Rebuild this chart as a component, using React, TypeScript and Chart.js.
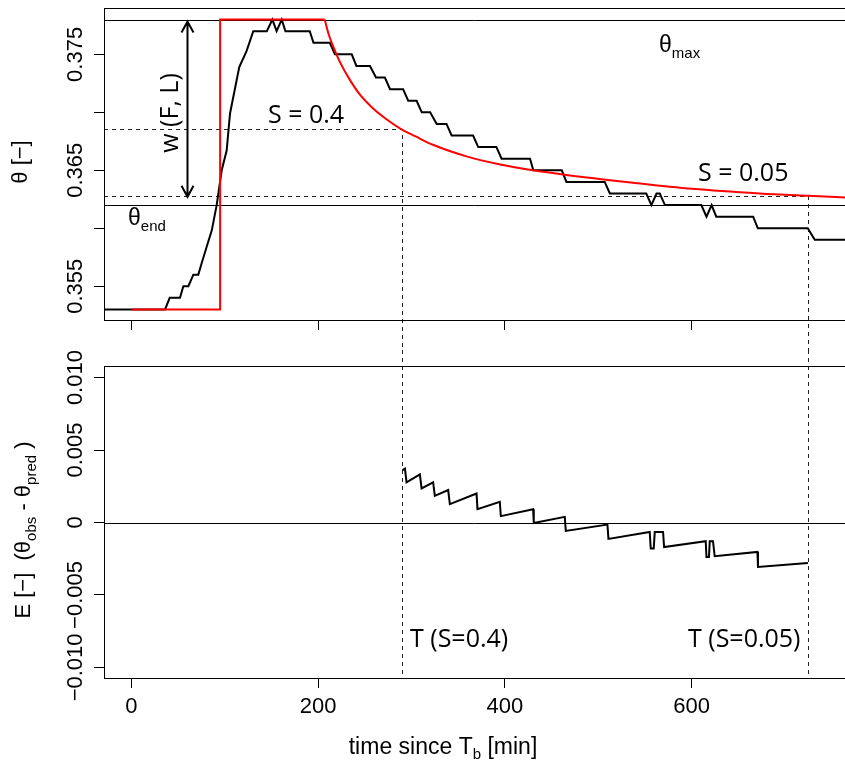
import React, { useEffect, useRef } from "react";
import { Chart, registerables } from "chart.js";

Chart.register(...registerables);

// ---------- axis settings ----------
const X_MIN = -29.4;
const X_MAX = 764.4;
const xTickValues = [0, 200, 400, 600];

const topYMin = 0.352;
const topYMax = 0.379;
const topYTickValues = [0.355, 0.36, 0.365, 0.37, 0.375];
const topYTickLabels = ["0.355", "", "0.365", "", "0.375"];

const botYMin = -0.0108;
const botYMax = 0.0108;
const botYTickValues = [-0.01, -0.005, 0, 0.005, 0.01];
const botYTickLabels = ["\u22120.010", "\u22120.005", "0", "0.005", "0.010"];

// ---------- reference levels ----------
const THETA_MAX = 0.378;
const THETA_END = 0.362;
const THETA_S04 = 0.3686;
const THETA_S005 = 0.3628;
const T_S04 = 290;
const T_S005 = 724.5;
const T_ARROW = 59.5;

// ---------- observed theta (black) ----------
const obsTime = [-30, 36, 41, 52, 55.6, 61, 66.3, 71.6, 75.3, 80.6, 86, 91.3, 96.7, 102, 105.6, 115.5, 123.4, 130.5, 145, 151, 155.5, 161, 165, 191, 195, 212.5, 218, 236, 241, 255.5, 262, 271.5, 277, 291, 296.5, 305.5, 311, 320, 327, 337.5, 343, 366, 371.5, 391, 396.5, 427, 430.5, 461, 466, 507, 512.5, 551.5, 557, 562.5, 566, 571.5, 610.5, 616, 621.5, 626.5, 666, 671, 724.5, 732, 770];
const obsTheta = [0.353, 0.353, 0.354, 0.354, 0.355, 0.355, 0.356, 0.356, 0.357, 0.3584, 0.3598, 0.362, 0.365, 0.3667, 0.3699, 0.3739, 0.3753, 0.377, 0.377, 0.378, 0.377, 0.378, 0.377, 0.377, 0.376, 0.376, 0.375, 0.375, 0.374, 0.374, 0.373, 0.373, 0.372, 0.372, 0.371, 0.371, 0.37, 0.37, 0.369, 0.369, 0.368, 0.368, 0.367, 0.367, 0.366, 0.366, 0.365, 0.365, 0.364, 0.364, 0.363, 0.363, 0.362, 0.363, 0.363, 0.362, 0.362, 0.361, 0.362, 0.361, 0.361, 0.36, 0.36, 0.359, 0.359];

// ---------- predicted theta (red) ----------
const predStepTime = [0, 95, 95, 207];
const predStepTheta = [0.353, 0.353, 0.378, 0.378];
const predDecayTime = [207, 211, 215, 223, 234, 245, 258, 270, 288, 305, 323, 359, 395, 430, 466, 530, 601, 673, 724.5, 770];
const predDecayTheta = [0.378, 0.3768, 0.3759, 0.3744, 0.3728, 0.3715, 0.3704, 0.3696, 0.3686, 0.3679, 0.3672, 0.3662, 0.3655, 0.365, 0.3646, 0.364, 0.3634, 0.363, 0.3628, 0.36264];

// ---------- error E = obs - pred ----------
const errTime = [290.4, 293, 294.7, 309, 310.8, 323.2, 325, 339.3, 341.1, 369.7, 370.7, 394.6, 395.7, 430.3, 431, 464.2, 465.3, 509.9, 511, 555.2, 556.3, 559.5, 560.6, 569.5, 570.6, 615.2, 616, 618.7, 619.5, 623, 624.8, 670.6, 671.2, 724.7];
const errValue = [0.00362, 0.00372, 0.00277, 0.00332, 0.00235, 0.00277, 0.00184, 0.00224, 0.00127, 0.002, 0.00092, 0.00143, 0.00044, 0.00092, -0.00003, 0.00039, -0.00058, -0.00014, -0.00113, -0.00065, -0.0018, -0.0018, -0.00065, -0.00065, -0.00169, -0.00129, -0.00238, -0.00238, -0.00129, -0.00129, -0.00233, -0.00203, -0.00307, -0.0028];

// ---------- fonts ----------
const AXIS_FONT = '22px "Liberation Sans", Arial, sans-serif';
const TITLE_FONT = '23px "Liberation Sans", Arial, sans-serif';
const SUB_FONT = '15px "Liberation Sans", Arial, sans-serif';
const NOTE_FONT = '25px "Open Sans", "Noto Sans", sans-serif';

const W = 870;
const TOP_H = 350;
const BOT_H = 415;

type Part = { text: string; font: string; dy?: number };

function drawParts(ctx: CanvasRenderingContext2D, parts: Part[], x: number, y: number, align: "left" | "center" | "right", rotated: boolean) {
  ctx.save();
  ctx.translate(x, y);
  if (rotated) ctx.rotate(-Math.PI / 2);
  ctx.textAlign = "left";
  ctx.textBaseline = "alphabetic";
  ctx.fillStyle = "#000";
  let total = 0;
  const widths = parts.map((p) => {
    ctx.font = p.font;
    const w = ctx.measureText(p.text).width;
    total += w;
    return w;
  });
  let cx = align === "center" ? -total / 2 : align === "right" ? -total : 0;
  parts.forEach((p, i) => {
    ctx.font = p.font;
    ctx.fillText(p.text, cx, p.dy || 0);
    cx += widths[i];
  });
  ctx.restore();
}

function toPoints(xs: number[], ys: number[]) {
  return xs.map((x, i) => ({ x, y: ys[i] }));
}

function drawFrame(chart: any) {
  const { ctx, chartArea: a } = chart;
  ctx.save();
  ctx.strokeStyle = "#000";
  ctx.lineWidth = 1;
  const l = Math.round(a.left) + 0.5;
  const t = Math.round(a.top) + 0.5;
  const r = Math.round(a.right) + 0.5;
  const b = Math.round(a.bottom) - 0.5;
  ctx.strokeRect(l, t, r - l, b - t);
  ctx.restore();
}

function drawYLabels(chart: any, values: number[], labels: string[]) {
  const y = chart.scales.y;
  values.forEach((v, i) => {
    if (!labels[i]) return;
    drawParts(chart.ctx, [{ text: labels[i], font: AXIS_FONT }], 82, y.getPixelForValue(v), "center", true);
  });
}

const xScaleBase = (height: number, showLabels: boolean) => ({
  type: "linear" as const,
  min: X_MIN,
  max: X_MAX,
  afterBuildTicks: (s: any) => {
    s.ticks = xTickValues.map((v) => ({ value: v }));
  },
  afterFit: (s: any) => {
    s.height = height;
  },
  grid: { drawOnChartArea: false, drawTicks: true, tickLength: 9, color: "#000", lineWidth: 1 },
  border: { display: false },
  ticks: {
    display: showLabels,
    font: { family: '"Liberation Sans", Arial, sans-serif', size: 22 },
    color: "#000",
    padding: 6,
    maxRotation: 0,
    minRotation: 0,
    autoSkip: false,
    callback: (v: any) => String(v),
  },
});

const yScaleBase = (min: number, max: number, values: number[]) => ({
  type: "linear" as const,
  min,
  max,
  afterBuildTicks: (s: any) => {
    s.ticks = values.map((v) => ({ value: v }));
  },
  afterFit: (s: any) => {
    s.width = 104;
  },
  grid: { drawOnChartArea: false, drawTicks: true, tickLength: 10, color: "#000", lineWidth: 1 },
  border: { display: false },
  ticks: { display: false },
});

const topPlugin = {
  id: "topDecor",
  beforeDatasetsDraw(chart: any) {
    const { ctx, chartArea: a, scales } = chart;
    const x = scales.x;
    const y = scales.y;
    ctx.save();
    ctx.strokeStyle = "#000";
    ctx.lineWidth = 1;
    [THETA_MAX, THETA_END].forEach((v) => {
      const py = Math.round(y.getPixelForValue(v)) + 0.5;
      ctx.beginPath();
      ctx.moveTo(a.left, py);
      ctx.lineTo(a.right, py);
      ctx.stroke();
    });
    ctx.setLineDash([4, 4]);
    ctx.strokeStyle = "#222";
    [[T_S04, THETA_S04], [T_S005, THETA_S005]].forEach(([t, th]) => {
      const px = Math.round(x.getPixelForValue(t)) + 0.5;
      const py = Math.round(y.getPixelForValue(th)) + 0.5;
      ctx.beginPath();
      ctx.moveTo(a.left, py);
      ctx.lineTo(px, py);
      ctx.lineTo(px, chart.height);
      ctx.stroke();
    });
    ctx.restore();
  },
  afterDraw(chart: any) {
    const { ctx, scales } = chart;
    const x = scales.x;
    const y = scales.y;
    drawFrame(chart);
    // double arrow w(F, L)
    const ax = Math.round(x.getPixelForValue(T_ARROW)) + 0.5;
    const ay1 = y.getPixelForValue(THETA_MAX) + 2;
    const ay2 = y.getPixelForValue(THETA_S005) + 1;
    ctx.save();
    ctx.strokeStyle = "#000";
    ctx.lineWidth = 2;
    ctx.beginPath();
    ctx.moveTo(ax, ay1);
    ctx.lineTo(ax, ay2);
    ctx.moveTo(ax - 6, ay1 + 11);
    ctx.lineTo(ax, ay1);
    ctx.lineTo(ax + 6, ay1 + 11);
    ctx.moveTo(ax - 6, ay2 - 11);
    ctx.lineTo(ax, ay2);
    ctx.lineTo(ax + 6, ay2 - 11);
    ctx.stroke();
    ctx.restore();
    // annotations
    drawParts(ctx, [{ text: "w (F, L)", font: NOTE_FONT }], 178, 113, "center", true);
    drawParts(ctx, [{ text: "S = 0.4", font: NOTE_FONT }], 268, 123, "left", false);
    drawParts(ctx, [{ text: "S = 0.05", font: NOTE_FONT }], 698, 181, "left", false);
    drawParts(ctx, [{ text: "\u03b8", font: TITLE_FONT }, { text: "max", font: SUB_FONT, dy: 6 }], 659, 52, "left", false);
    drawParts(ctx, [{ text: "\u03b8", font: TITLE_FONT }, { text: "end", font: SUB_FONT, dy: 6 }], 128, 225, "left", false);
    // axis labels
    drawYLabels(chart, topYTickValues, topYTickLabels);
    drawParts(ctx, [{ text: "\u03b8 [\u2212]", font: AXIS_FONT }], 27, 162, "center", true);
  },
};

const botPlugin = {
  id: "botDecor",
  beforeDatasetsDraw(chart: any) {
    const { ctx, chartArea: a, scales } = chart;
    const x = scales.x;
    const y = scales.y;
    ctx.save();
    ctx.strokeStyle = "#000";
    ctx.lineWidth = 1;
    const py = Math.round(y.getPixelForValue(0)) + 0.5;
    ctx.beginPath();
    ctx.moveTo(a.left, py);
    ctx.lineTo(a.right, py);
    ctx.stroke();
    ctx.setLineDash([4, 4]);
    ctx.strokeStyle = "#222";
    [T_S04, T_S005].forEach((t) => {
      const px = Math.round(x.getPixelForValue(t)) + 0.5;
      ctx.beginPath();
      ctx.moveTo(px, 0);
      ctx.lineTo(px, a.bottom);
      ctx.stroke();
    });
    ctx.restore();
  },
  afterDraw(chart: any) {
    const { ctx } = chart;
    drawFrame(chart);
    drawParts(ctx, [{ text: "T (S=0.4)", font: NOTE_FONT }], 410, 297, "left", false);
    drawParts(ctx, [{ text: "T (S=0.05)", font: NOTE_FONT }], 688, 297, "left", false);
    drawYLabels(chart, botYTickValues, botYTickLabels);
    drawParts(
      ctx,
      [
        { text: "E [\u2212]  (", font: AXIS_FONT },
        { text: "\u03b8", font: AXIS_FONT },
        { text: "obs", font: SUB_FONT, dy: 6 },
        { text: " - ", font: AXIS_FONT },
        { text: "\u03b8", font: AXIS_FONT },
        { text: "pred", font: SUB_FONT, dy: 6 },
        { text: " )", font: AXIS_FONT },
      ],
      30,
      180,
      "center",
      true
    );
    drawParts(
      ctx,
      [
        { text: "time since T", font: TITLE_FONT },
        { text: "b", font: SUB_FONT, dy: 5 },
        { text: " [min]", font: TITLE_FONT },
      ],
      443,
      404,
      "center",
      false
    );
  },
};

const commonOptions = {
  responsive: false,
  animation: false as const,
  devicePixelRatio: 1,
  events: [] as any[],
  plugins: { legend: { display: false }, tooltip: { enabled: false } },
};

export default function App() {
  const topRef = useRef<HTMLCanvasElement>(null);
  const botRef = useRef<HTMLCanvasElement>(null);

  useEffect(() => {
    const top = new Chart(topRef.current as HTMLCanvasElement, {
      type: "line",
      data: {
        datasets: [
          {
            data: toPoints(predStepTime, predStepTheta),
            borderColor: "#ff0000",
            borderWidth: 2,
            pointRadius: 0,
            tension: 0,
            fill: false,
          },
          {
            data: toPoints(predDecayTime, predDecayTheta),
            borderColor: "#ff0000",
            borderWidth: 2,
            pointRadius: 0,
            cubicInterpolationMode: "monotone",
            fill: false,
          },
          {
            data: toPoints(obsTime, obsTheta),
            borderColor: "#000",
            borderWidth: 2,
            pointRadius: 0,
            tension: 0,
            fill: false,
          },
        ],
      },
      options: {
        ...commonOptions,
        layout: { padding: { left: 0, right: W - 845, top: 8, bottom: 0 } },
        scales: {
          x: xScaleBase(TOP_H - 321, false),
          y: yScaleBase(topYMin, topYMax, topYTickValues),
        },
      } as any,
      plugins: [topPlugin],
    });

    const bot = new Chart(botRef.current as HTMLCanvasElement, {
      type: "line",
      data: {
        datasets: [
          {
            data: toPoints(errTime, errValue),
            borderColor: "#000",
            borderWidth: 2,
            pointRadius: 0,
            tension: 0,
            fill: false,
          },
        ],
      },
      options: {
        ...commonOptions,
        layout: { padding: { left: 0, right: W - 845, top: 16, bottom: 0 } },
        scales: {
          x: xScaleBase(BOT_H - 329, true),
          y: yScaleBase(botYMin, botYMax, botYTickValues),
        },
      } as any,
      plugins: [botPlugin],
    });

    return () => {
      top.destroy();
      bot.destroy();
    };
  }, []);

  return (
    <div
      style={{
        position: "absolute",
        left: 0,
        top: 0,
        width: 845,
        height: 765,
        overflow: "hidden",
        background: "#fff",
      }}
    >
      <canvas ref={topRef} width={W} height={TOP_H} style={{ position: "absolute", left: 0, top: 0 }} />
      <canvas ref={botRef} width={W} height={BOT_H} style={{ position: "absolute", left: 0, top: TOP_H }} />
    </div>
  );
}
